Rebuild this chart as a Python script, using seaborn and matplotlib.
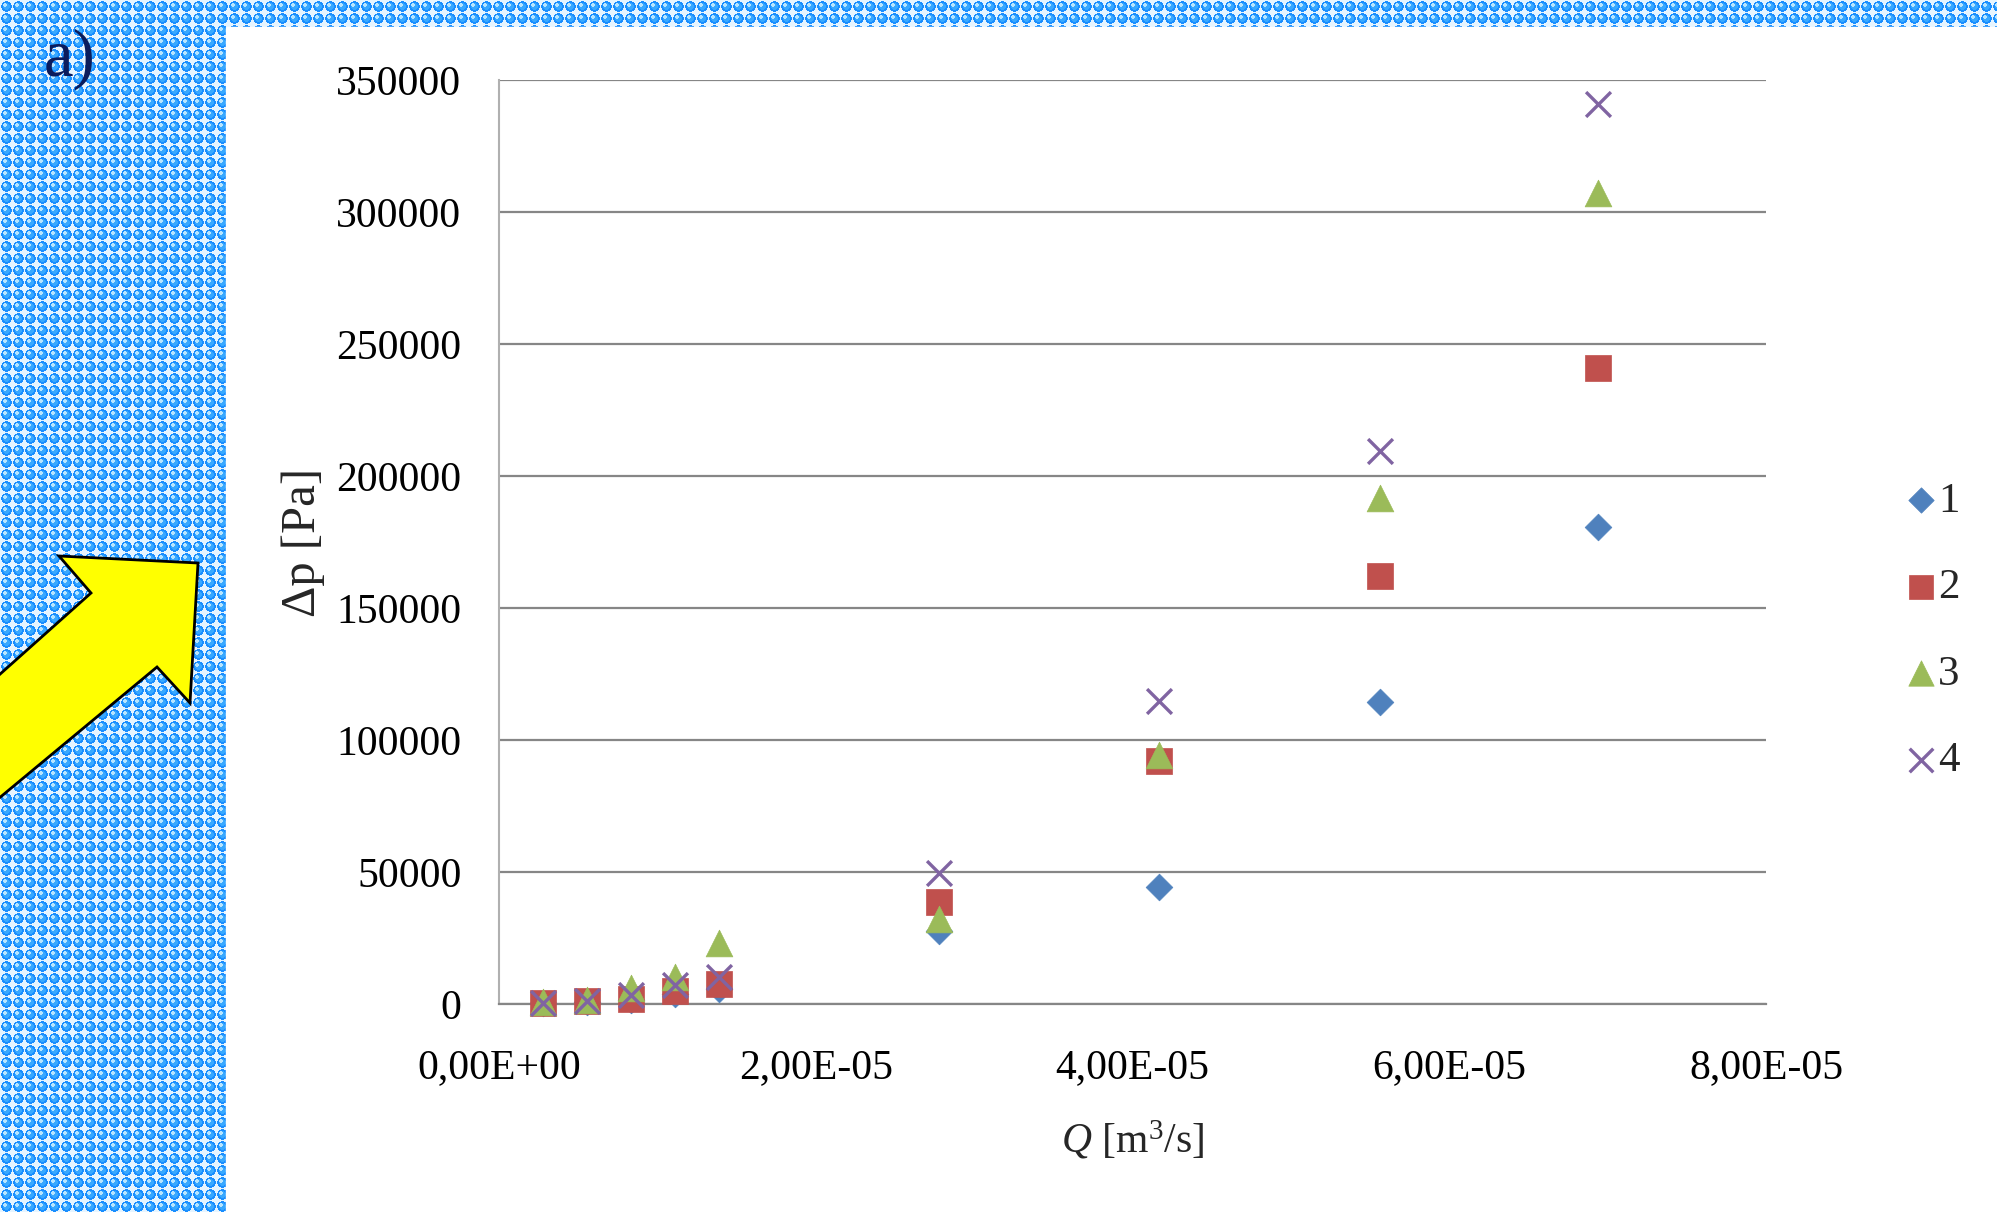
import numpy as np
import seaborn as sns
import matplotlib.pyplot as plt
from matplotlib.patches import Rectangle, Polygon
from matplotlib.ticker import FuncFormatter, MultipleLocator

# data: flow rate Q [m3/s] and pressure drop for four samples
q = [2.78e-6, 5.56e-6, 8.33e-6, 1.11e-5, 1.39e-5, 2.78e-5, 4.17e-5, 5.56e-5, 6.94e-5]
dp1 = [200, 800, 1500, 3800, 5700, 27800, 44300, 114500, 180600]
dp2 = [300, 1100, 2000, 4900, 7500, 38500, 92000, 162300, 240900]
dp3 = [600, 1600, 6000, 10400, 23000, 32200, 94500, 191500, 307300]
dp4 = [400, 1100, 3400, 7200, 10300, 49500, 114700, 209500, 340900]
series_names = ["1", "2", "3", "4"]
yticks = [0, 50000, 100000, 150000, 200000, 250000, 300000, 350000]

sns.set_style("white")
plt.rcParams["font.family"] = ["Liberation Serif", "DejaVu Serif"]
plt.rcParams["mathtext.fontset"] = "custom"
plt.rcParams["mathtext.rm"] = "Liberation Serif"
plt.rcParams["mathtext.it"] = "Liberation Serif:italic"

W, H = 1997, 1212
fig = plt.figure(figsize=(W / 100, H / 100), dpi=100)

# bubbly blue background
bg = fig.add_axes([0, 0, 1, 1])
yy, xx = np.mgrid[0:H, 0:W]
p = 12.0
cx = np.floor(xx / p) * p + p / 2
cy = np.floor(yy / p) * p + p / 2
d = np.hypot(xx - cx, yy - cy)
dh = np.hypot(xx - cx + 1.6, yy - cy + 1.6)
img = np.ones((H, W, 3)) * np.array([0.9, 0.96, 1.0])
img[d < 5.2] = [0.1, 0.56, 1.0]
img[d < 3.5] = [0.22, 0.66, 1.0]
img[dh < 1.8] = [0.72, 0.9, 1.0]
bg.imshow(img, extent=(0, W, H, 0), aspect="auto", interpolation="bilinear")
bg.add_patch(Rectangle((226, 27), W - 226, H - 27, color="white"))
arrow = [(198, 563), (59, 556), (91, 593), (-20, 692), (-20, 814), (157, 667), (190, 703)]
bg.add_patch(Polygon(arrow, closed=True, facecolor="#ffff00", edgecolor="black", lw=2))
bg.text(44, 76, "a)", fontsize=48, color="#0b1c5c", va="baseline")
bg.set_xlim(0, W)
bg.set_ylim(H, 0)
bg.axis("off")

ax = fig.add_axes([499 / W, 208 / H, 1267 / W, 924 / H])
ax.set_facecolor("none")

styles = [
    (dp1, "D", 185, "#4f81bd"),
    (dp2, "s", 340, "#c0504d"),
    (dp3, "^", 370, "#9bbb59"),
    (dp4, "x", 320, "#8064a2"),
]
for (vals, mk, size, col), name in zip(styles, series_names):
    if mk == "x":
        sns.scatterplot(x=q, y=vals, marker=mk, s=size, color=col, linewidth=2.4,
                        ax=ax, label=name, clip_on=False, zorder=3)
    else:
        sns.scatterplot(x=q, y=vals, marker=mk, s=size, color=col, edgecolor=col,
                        linewidth=0.5, ax=ax, label=name, clip_on=False, zorder=3)

ax.set_xlim(0, 8e-5)
ax.set_ylim(0, 350000)
ax.xaxis.set_major_locator(MultipleLocator(2e-5))
ax.set_yticks(yticks)
ax.xaxis.set_major_formatter(FuncFormatter(lambda v, _: f"{v:.2E}".replace(".", ",")))
ax.yaxis.grid(True, color="#868686", lw=1.6)
ax.xaxis.grid(False)
ax.set_axisbelow(True)
for s in ["top", "right"]:
    ax.spines[s].set_visible(False)
ax.spines["left"].set_color("#b0b0b0")
ax.spines["left"].set_linewidth(1.5)
ax.spines["bottom"].set_color("#868686")
ax.spines["bottom"].set_linewidth(1.6)
ax.tick_params(axis="both", length=0, labelsize=30, colors="black")
ax.tick_params(axis="y", pad=27)
ax.tick_params(axis="x", pad=32)

ax.set_ylabel("Δp [Pa]", fontsize=35)
ax.set_xlabel(r"$Q$ [m$^{3}$/s]", fontsize=30)
ax.yaxis.set_label_coords(-0.137, 0.5)
ax.xaxis.set_label_coords(0.5, -0.124)

handles, labels = ax.get_legend_handles_labels()
ax.legend(handles, labels, loc="upper left", bbox_to_anchor=(1882 / W, 1 - 460 / H),
          bbox_transform=fig.transFigure, frameon=False, fontsize=31,
          labelspacing=1.1, handletextpad=0.0, handlelength=0.8, borderpad=0,
          markerscale=0.95)

fig.savefig("out.png", dpi=100)
